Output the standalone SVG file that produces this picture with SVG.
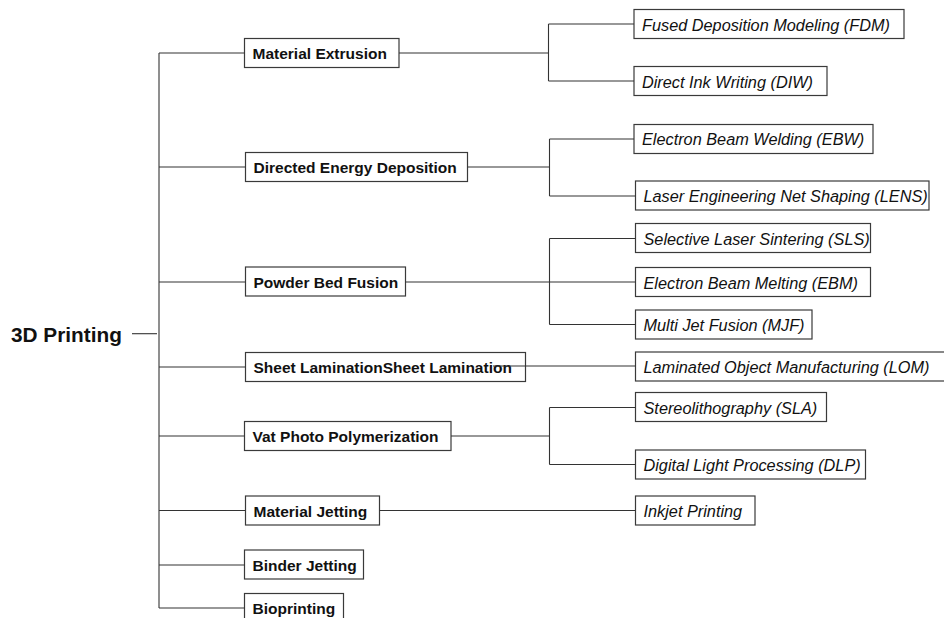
<svg xmlns="http://www.w3.org/2000/svg" width="944" height="618" viewBox="0 0 944 618">
<style>
.bg{fill:#ffffff}
.box{fill:#ffffff;stroke:#3a3a3a;stroke-width:1.2}
.cn{fill:none;stroke:#333333;stroke-width:1.1}
.cat{font-family:"Liberation Sans",Arial,sans-serif;font-weight:bold;font-size:15.5px;fill:#111111}
.tech{font-family:"Liberation Sans",Arial,sans-serif;font-style:italic;font-size:16.3px;fill:#111111}
.root{font-family:"Liberation Sans",Arial,sans-serif;font-weight:bold;font-size:20.8px;fill:#111111}
</style>
<rect class="bg" x="0" y="0" width="944" height="618"/>

<g id="root"><text class="root" x="11" y="341.7">3D Printing</text></g>

<g id="material-extrusion"><rect class="box" x="244.5" y="38.5" width="154.5" height="29"/><text class="cat" x="252.5" y="59">Material Extrusion</text></g>
<g id="directed-energy-deposition"><rect class="box" x="245.5" y="152.5" width="222" height="29"/><text class="cat" x="253.5" y="173">Directed Energy Deposition</text></g>
<g id="powder-bed-fusion"><rect class="box" x="245.5" y="267" width="160" height="29"/><text class="cat" x="253.5" y="288">Powder Bed Fusion</text></g>
<g id="sheet-lamination"><rect class="box" x="245.5" y="352.5" width="280" height="29"/><text class="cat" x="253.5" y="373">Sheet LaminationSheet Lamination</text></g>
<g id="vat-photo-polymerization"><rect class="box" x="244.5" y="421.5" width="206.5" height="29"/><text class="cat" x="252.5" y="442">Vat Photo Polymerization</text></g>
<g id="material-jetting"><rect class="box" x="245.5" y="496" width="134" height="29"/><text class="cat" x="253.5" y="516.5">Material Jetting</text></g>
<g id="binder-jetting"><rect class="box" x="244.5" y="550" width="119" height="29"/><text class="cat" x="252.5" y="571">Binder Jetting</text></g>
<g id="bioprinting"><rect class="box" x="244.5" y="593.5" width="99" height="29"/><text class="cat" x="252.5" y="613.5">Bioprinting</text></g>

<g id="fdm"><rect class="box" x="634" y="9.5" width="270" height="29"/><text class="tech" x="642" y="30.5">Fused Deposition Modeling (FDM)</text></g>
<g id="diw"><rect class="box" x="634" y="66.5" width="193" height="29"/><text class="tech" x="642" y="87.5">Direct Ink Writing (DIW)</text></g>
<g id="ebw"><rect class="box" x="634" y="124.5" width="239" height="29"/><text class="tech" x="642" y="145">Electron Beam Welding (EBW)</text></g>
<g id="lens"><rect class="box" x="635.5" y="181" width="293.5" height="29"/><text class="tech" x="643.5" y="202">Laser Engineering Net Shaping (LENS)</text></g>
<g id="sls"><rect class="box" x="635.5" y="223.5" width="235" height="29"/><text class="tech" x="643.5" y="244.5">Selective Laser Sintering (SLS)</text></g>
<g id="ebm"><rect class="box" x="635.5" y="267.5" width="235" height="29"/><text class="tech" x="643.5" y="288.5">Electron Beam Melting (EBM)</text></g>
<g id="mjf"><rect class="box" x="635.5" y="310" width="176.5" height="29"/><text class="tech" x="643.5" y="331">Multi Jet Fusion (MJF)</text></g>
<g id="lom"><rect class="box" x="635.5" y="352" width="312" height="29"/><text class="tech" x="643.5" y="373">Laminated Object Manufacturing (LOM)</text></g>
<g id="sla"><rect class="box" x="635.5" y="392.5" width="191" height="29"/><text class="tech" x="643.5" y="413.5">Stereolithography (SLA)</text></g>
<g id="dlp"><rect class="box" x="635.5" y="450" width="230" height="29"/><text class="tech" x="643.5" y="471">Digital Light Processing (DLP)</text></g>
<g id="inkjet"><rect class="box" x="635.5" y="496" width="119.5" height="29"/><text class="tech" x="643.5" y="517">Inkjet Printing</text></g>

<g id="connectors">
<path class="cn" d="M132 333.7H157"/>
<path class="cn" d="M159 53V608"/>
<path class="cn" d="M159 53H244.5M159 167H245.5M159 282H245.5M159 367H245.5M159 436H244.5M159 510.5H245.5M159 565H244.5M159 608H244.5"/>
<path class="cn" d="M399 53H548.5M548.5 24V81M548.5 24H634M548.5 81H634"/>
<path class="cn" d="M467.5 167H549.5M549.5 139V196M549.5 139H634M549.5 196H635.5"/>
<path class="cn" d="M405.5 282H635.5M549.5 238.5V324.5M549.5 238.5H635.5M549.5 324.5H635.5"/>
<path class="cn" d="M493 366H635.5"/>
<path class="cn" d="M451 436H549.5M549.5 407.5V464.5M549.5 407.5H635.5M549.5 464.5H635.5"/>
<path class="cn" d="M379.5 510.5H635.5"/>
</g>
</svg>
